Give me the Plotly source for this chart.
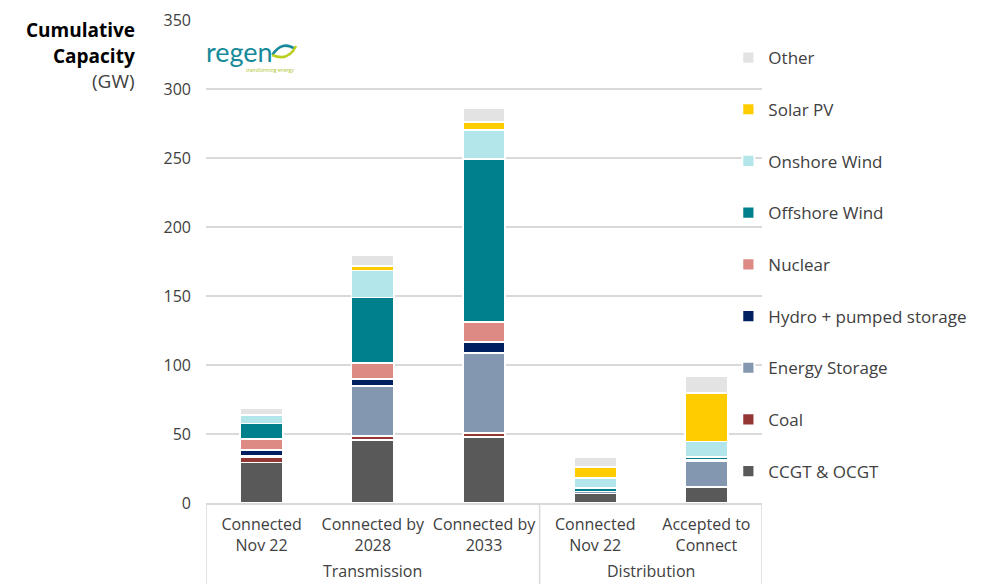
import plotly.graph_objects as go

# Connection stages, grouped by network
groups = ["Transmission", "Transmission", "Transmission", "Distribution", "Distribution"]
stages = ["Connected<br>Nov 22", "Connected by<br>2028", "Connected by<br>2033",
          "Connected<br>Nov 22", "Accepted to<br>Connect"]

# Cumulative capacity by technology (GW), one value per stage
ccgt = [29.3, 45.4, 48.0, 6.9, 11.5]
coal = [4.0, 3.3, 2.9, 0.0, 0.0]
energy_storage = [0.7, 36.1, 57.6, 1.5, 18.7]
hydro = [4.3, 5.3, 8.3, 0.0, 0.7]
nuclear = [8.2, 11.5, 14.5, 0.0, 0.0]
offshore = [11.1, 47.3, 118.0, 2.5, 2.5]
onshore = [6.4, 19.6, 21.2, 7.1, 11.2]
solar = [0.0, 3.1, 5.8, 8.0, 35.0]
other = [4.8, 8.4, 9.8, 7.3, 12.1]

y_ticks = [0, 50, 100, 150, 200, 250, 300, 350]

# stacking order, bottom to top
series = [
    ("CCGT & OCGT", ccgt, "#595959"),
    ("Coal", coal, "#943634"),
    ("Energy Storage", energy_storage, "#8497B0"),
    ("Hydro + pumped storage", hydro, "#002060"),
    ("Nuclear", nuclear, "#DE8A84"),
    ("Offshore Wind", offshore, "#00808C"),
    ("Onshore Wind", onshore, "#B3E6EA"),
    ("Solar PV", solar, "#FFCC00"),
    ("Other", other, "#E3E3E3"),
]

FONT = "Open Sans"
TEXT = "#404040"
GRID = "#D9D9D9"

pos = list(range(len(stages)))

fig = go.Figure()
n = len(series)
for i, (name, vals, color) in enumerate(series):
    fig.add_trace(go.Bar(
        x=pos, y=vals, name=name, legendgroup=name,
        legendrank=n - i,  # top of the stack listed first
        marker=dict(color=color, line=dict(color="white", width=1.8)),
    ))

# plot-area geometry in pixels, used to place the title, group labels and logo
W, H = 984, 584
L, R, T, B = 206, 216, 20, 81
pw, ph = W - L - R, H - T - B


def px(x):
    return (x - L) / pw


def py(y):
    return (H - B - y) / ph


fig.update_layout(
    width=W, height=H,
    margin=dict(l=L, r=R, t=T, b=B, pad=0),
    barmode="stack", bargap=0.617,
    plot_bgcolor="white", paper_bgcolor="white",
    font=dict(family=FONT, size=16, color=TEXT),
    showlegend=True,
    legend=dict(
        traceorder="grouped", tracegroupgap=26.6,
        x=px(734), y=py(40), xanchor="left", yanchor="top",
        font=dict(family=FONT, size=17, color=TEXT),
        bgcolor="rgba(0,0,0,0)",
    ),
    xaxis=dict(
        range=[-0.5, len(stages) - 0.5], tickvals=pos, ticktext=stages,
        showline=True, linecolor=GRID, linewidth=1.5,
        ticks="", tickangle=0, automargin=False, ticklabelstandoff=6,
        tickfont=dict(family=FONT, size=16, color=TEXT),
        showgrid=False, zeroline=False,
    ),
    yaxis=dict(
        range=[0, 350], tickvals=y_ticks, showgrid=True, gridcolor=GRID,
        gridwidth=1.5, zeroline=False, showline=False, ticks="", automargin=False,
        ticklabelstandoff=14, tickfont=dict(family=FONT, size=16, color=TEXT),
    ),
)

# group dividers below the axis and the group names
bounds = [-0.5]
for i in range(1, len(groups)):
    if groups[i] != groups[i - 1]:
        bounds.append(i - 0.5)
bounds.append(len(groups) - 0.5)
for b in bounds:
    fig.add_shape(type="line", xref="x", yref="paper", x0=b, x1=b, y0=0, y1=py(H),
                  line=dict(color=GRID, width=1.5))
for g0, g1 in zip(bounds[:-1], bounds[1:]):
    fig.add_annotation(
        x=(g0 + g1) / 2, y=py(571), xref="x", yref="paper", yanchor="middle",
        text=groups[int(g0 + 0.5)], showarrow=False,
        font=dict(family=FONT, size=16, color=TEXT),
    )

# axis title
for text, yy, bold in [("Cumulative", 30, True), ("Capacity", 56, True), ("(GW)", 81, False)]:
    fig.add_annotation(
        x=px(136), y=py(yy), xref="paper", yref="paper", xanchor="right", yanchor="middle",
        text=f"<b>{text}</b>" if bold else text, showarrow=False,
        font=dict(family=FONT, size=19, color="#000000" if bold else TEXT),
    )

# regen logo
fig.add_annotation(
    x=px(204), y=py(51), xref="paper", yref="paper", xanchor="left", yanchor="middle",
    text="regen", showarrow=False,
    font=dict(family="Lato", size=27, color="#168A9A"),
)
fig.add_annotation(
    x=px(297), y=py(70), xref="paper", yref="paper", xanchor="right", yanchor="middle",
    text="transforming energy", showarrow=False,
    font=dict(family=FONT, size=5, color="#A9C21C"),
)


def arc(points):
    return "M {},{} Q {},{} {},{}".format(*[v for p in points for v in (px(p[0]), py(p[1]))])


fig.add_shape(type="path", xref="paper", yref="paper",
              path=arc([(273, 55), (283, 40), (296, 49)]),
              line=dict(color="#168A9A", width=2.5))
fig.add_shape(type="path", xref="paper", yref="paper",
              path=arc([(273, 55), (289, 62), (297, 46)]),
              line=dict(color="#B8CF1E", width=2.5))

fig.write_html("out.html")
